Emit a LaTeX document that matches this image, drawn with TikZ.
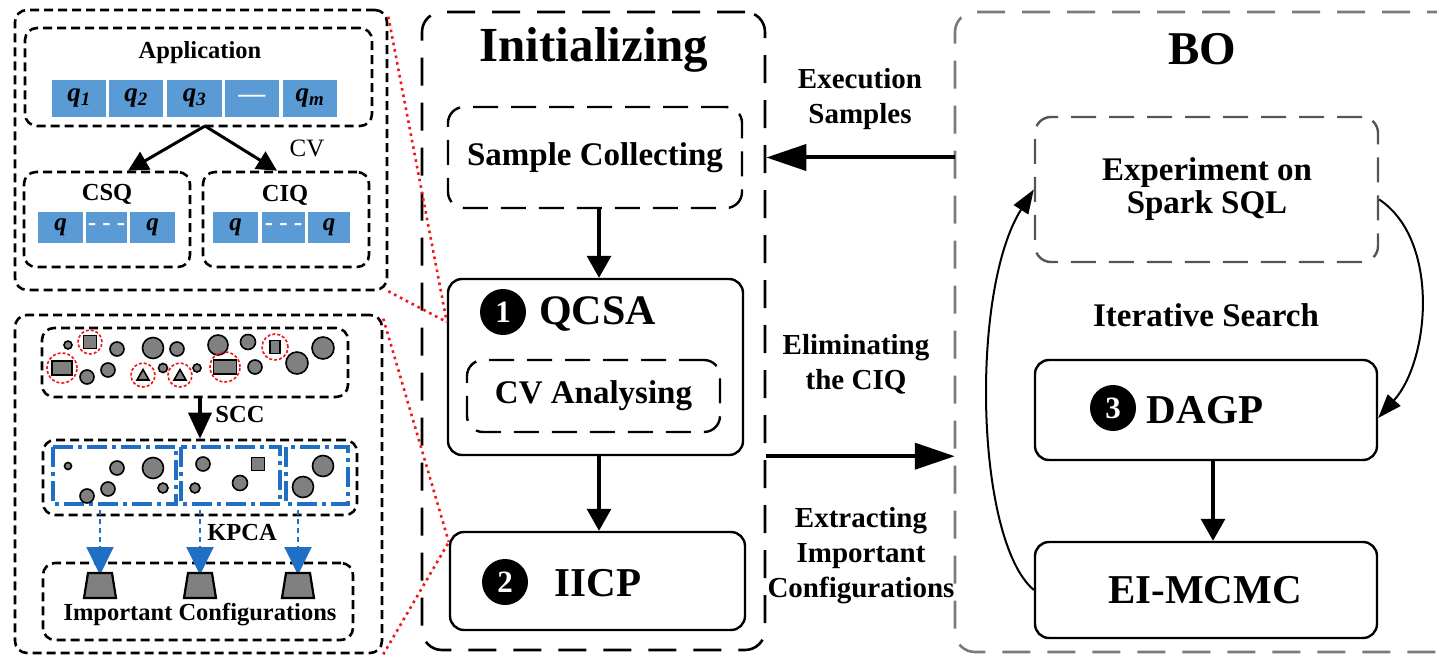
\documentclass[tikz,border=0pt]{standalone}
\usepackage{fontspec}
\setmainfont{Liberation Serif}
\usetikzlibrary{arrows.meta}
\definecolor{cellblue}{HTML}{5B9BD5}
\definecolor{clusterblue}{HTML}{1F6FC4}
\definecolor{framegray}{HTML}{7A7A7A}
\definecolor{boxgray}{HTML}{555555}
\definecolor{dotgray}{HTML}{808080}
\definecolor{linkred}{HTML}{F01818}
\newcommand\setfs[2]{\fontsize{#1}{#2}\selectfont}
\newcommand\qsub[1]{\textbf{\textit{q}\textsubscript{\textit{#1}}}}

\begin{document}
\begin{tikzpicture}[x=1pt,y=-1pt,
  panel/.style={draw, line width=2.6pt, dash pattern=on 9pt off 5pt, rounded corners=12pt, inner sep=0pt},
  bigframe/.style={draw, line width=2.6pt, dash pattern=on 28pt off 17pt, rounded corners=20pt, inner sep=0pt},
  subframe/.style={draw, line width=2.4pt, dash pattern=on 25pt off 13pt, rounded corners=16pt, inner sep=0pt},
  solidbox/.style={draw, line width=2.4pt, rounded corners=14pt, inner sep=0pt},
  cell/.style={fill=cellblue, minimum height=37pt, inner sep=0pt, text=black, font=\setfs{27}{28}},
  scell/.style={fill=cellblue, minimum height=31pt, inner sep=0pt, text=black, font=\setfs{25}{26}},
  smalllbl/.style={font=\bfseries\setfs{24.5}{28}, inner sep=0pt},
  midlbl/.style={font=\bfseries\setfs{33}{38}, inner sep=0pt, align=center},
  sidelbl/.style={font=\bfseries\setfs{29}{35}, inner sep=0pt, align=center},
  titlelbl/.style={font=\bfseries\setfs{49}{55}, inner sep=0pt},
  stagelbl/.style={font=\bfseries\setfs{42}{46}, inner sep=0pt},
  numdisc/.style={circle, fill=black, text=white, inner sep=0pt, minimum size=46pt, font=\bfseries\setfs{31}{31}},
  flowarrow/.style={-{Triangle[length=22pt,width=24pt]}, line width=3.2pt},
  linkarrow/.style={-{Triangle[length=40pt,width=26pt]}, line width=4pt},
  looparrow/.style={-{Triangle[length=24pt,width=17pt]}, line width=2pt},
  splitarrow/.style={-{Triangle[length=20pt,width=20pt]}, line width=3pt},
  kpcaarrow/.style={draw=clusterblue, line width=2pt, dash pattern=on 5pt off 4pt,
                    -{Triangle[length=28pt,width=27pt,fill=clusterblue]}},
  cluster/.style={draw=clusterblue, line width=3.5pt, dash pattern=on 20pt off 5pt on 4pt off 5pt},
  item/.style={draw=black, line width=1.6pt, fill=dotgray},
  mark ring/.style={draw=linkred, line width=1.6pt, dash pattern=on 3pt off 2pt},
  reddots/.style={draw=linkred, line width=2.6pt, dash pattern=on 2.6pt off 4pt}
]
\useasboundingbox (0,0) rectangle (1437,655);
\clip (0,0) rectangle (1437,655);

% ---------- query classification panel ----------
\node[panel, minimum width=372pt, minimum height=280pt] (tlp) at (201,150) {};
\node[panel, minimum width=347pt, minimum height=98pt] (app) at (198.5,77) {};
\node[smalllbl] (applbl) at (200,53) {Application};
\node[cell, minimum width=54pt] (c1) at (79,98.5) {\qsub{1}};
\node[cell, minimum width=54pt] (c2) at (136,98.5) {\qsub{2}};
\node[cell, minimum width=55pt] (c3) at (194.5,98.5) {\qsub{3}};
\node[cell, minimum width=54pt] (c4) at (252,98.5) {\textcolor{white}{\textbf{---}}};
\node[cell, minimum width=54pt] (c5) at (310,98.5) {\qsub{m}};

\node[panel, minimum width=166pt, minimum height=95pt] (csq) at (107,219.5) {};
\node[smalllbl] (csqlbl) at (107,194) {CSQ};
\node[scell, minimum width=45pt] (s1) at (60.5,227.5) {\textbf{\textit{q}}};
\node[scell, minimum width=41pt] (s2) at (106.5,227.5) {\textcolor{white}{\textbf{- - -}}};
\node[scell, minimum width=45pt] (s3) at (152.5,227.5) {\textbf{\textit{q}}};

\node[panel, minimum width=166pt, minimum height=95pt] (ciq) at (286,219.5) {};
\node[smalllbl] (ciqlbl) at (285,195) {CIQ};
\node[scell, minimum width=45pt] (i1) at (235.5,227.5) {\textbf{\textit{q}}};
\node[scell, minimum width=43pt] (i2) at (283.5,227.5) {\textcolor{white}{\textbf{- - -}}};
\node[scell, minimum width=42pt] (i3) at (329,227.5) {\textbf{\textit{q}}};

\node[font=\setfs{25}{28}, inner sep=0pt] (cvlbl) at (307,148) {CV};
\coordinate (split) at (205,126);
\draw[splitarrow] (split) -- ([xshift=21pt]csq.north);
\draw[splitarrow] (split) -- ([xshift=-9pt]ciq.north);

% ---------- configuration clustering panel ----------
\node[panel, minimum width=367pt, minimum height=338pt] (blp) at (198.5,484) {};
\node[panel, minimum width=306pt, minimum height=69pt] (pool) at (195,362.5) {};
% all configurations, the marked ones ringed in red
\foreach \x/\y/\r in {68/345/4, 117/349/7, 153/348/10.5, 177/349/7, 218/345/10,
                      248/342/7.5, 323/348/11, 87/377/7, 108/370/7, 163/368/4.5,
                      197/368/4, 255/367/7, 297/363/11}
  \draw[item] (\x,\y) circle[radius=\r pt];
\draw[item] (83.5,335.5) rectangle (96.5,348.5);
\draw[mark ring] (90,342) circle[radius=12pt];
\draw[item] (270,340.5) rectangle (280,353.5);
\draw[mark ring] (275,347) circle[radius=13pt];
\draw[item] (52,361) rectangle (72,375);
\draw[mark ring] (62,368) circle[radius=15pt];
\draw[item] (213.5,360) rectangle (236.5,374);
\draw[mark ring] (225,367) circle[radius=15pt];
\draw[item] (137,380) -- (149,380) -- (143,369.5) -- cycle;
\draw[mark ring] (143,375) circle[radius=12pt];
\draw[item] (174,380) -- (186,380) -- (180,369.5) -- cycle;
\draw[mark ring] (180,375) circle[radius=12pt];

\node[panel, minimum width=314pt, minimum height=75pt] (groups) at (200,477.5) {};
\draw[flowarrow, line width=3.5pt, -{Triangle[length=26pt,width=23pt]}] (pool.south -| 200,0) -- (groups.north -| 200,0);
\node[smalllbl] (scclbl) at (240,415) {SCC};
\draw[cluster] (53,447) rectangle (176,504);
\draw[cluster] (181,447) rectangle (280,504);
\draw[cluster] (286,447) rectangle (348,504);
\foreach \x/\y/\r in {68/466/3.5, 117/468/7, 153/468/10.5, 87/496/7, 108/489/7, 163/488/5,
                      203/464/7, 240/483/7.5, 195/488/5, 323/466/10.5, 303/487/10.5}
  \draw[item] (\x,\y) circle[radius=\r pt];
\draw[item] (251.5,457.5) rectangle (264.5,470.5);

\node[panel, minimum width=310pt, minimum height=77pt] (chosen) at (198,601.5) {};
\foreach \x in {100,200,298}{
  \draw[kpcaarrow] (\x,510) -- (\x,575);
  \draw[item, line width=2.2pt] (\x-12,573) -- (\x+12,573) -- (\x+16,598) -- (\x-16,598) -- cycle;
}
\node[smalllbl] (kpcalbl) at (242,533) {KPCA};
\node[smalllbl] (chosenlbl) at (200,615) {Important Configurations};

% ---------- initializing stage ----------
\node[bigframe, minimum width=343pt, minimum height=638pt] (init) at (593.5,331) {};
\node[titlelbl] (initlbl) at (594,50) {Initializing};
\node[subframe, minimum width=294pt, minimum height=101pt, midlbl] (sc) at (595,157.5) {Sample Collecting};
\node[solidbox, minimum width=295pt, minimum height=176pt] (qcsa) at (595.5,367) {};
\node[numdisc] (n1) at (503,312) {1};
\node[stagelbl] (qcsalbl) at (597.5,314) {QCSA};
\node[subframe, minimum width=253pt, minimum height=72pt, midlbl] (cva) at (593.5,396) {CV Analysing};
\node[solidbox, minimum width=295pt, minimum height=98pt] (iicp) at (597.5,581) {};
\node[numdisc] (n2) at (505,582) {2};
\node[stagelbl, font=\bfseries\setfs{41}{46}] (iicplbl) at (598,583) {IICP};
\draw[flowarrow] (sc.south -| 599,0) -- (qcsa.north -| 599,0);
\draw[flowarrow] (qcsa.south -| 599,0) -- (iicp.north -| 599,0);

% ---------- BO stage: its frame is open to the right ----------
\node[inner sep=0pt, minimum width=600pt, minimum height=640pt] (bo) at (1255,332) {};
\draw[bigframe, draw=framegray] (1500,12) -- (955,12) -- (955,652) -- (1500,652);
\node[titlelbl, font=\bfseries\setfs{47}{52}] (bolbl) at (1202,49) {BO};
\node[subframe, draw=boxgray, minimum width=343pt, minimum height=145pt] (exp) at (1206.5,189.5) {};
\node[midlbl, align=center] (explbl) at (1207,189) {Experiment on\\[-5pt]Spark SQL};
\node[midlbl] (iterlbl) at (1206,315) {Iterative Search};
\node[solidbox, minimum width=342pt, minimum height=100pt] (dagp) at (1206,410) {};
\node[numdisc] (n3) at (1113,408) {3};
\node[stagelbl, font=\bfseries\setfs{41}{46}] (dagplbl) at (1205,410) {DAGP};
\node[solidbox, minimum width=342pt, minimum height=96pt] (ei) at (1206,590) {};
\node[stagelbl, font=\bfseries\setfs{41}{46}] (eilbl) at (1205,590) {EI-MCMC};
\draw[flowarrow] (dagp.south -| 1213,0) -- (ei.north -| 1213,0);
\draw[looparrow] ([yshift=-10pt]exp.east) .. controls (1440,240) and (1430,360) .. ([yshift=-8pt]dagp.east);
\draw[looparrow] (ei.west) .. controls (975,540) and (970,290) .. (exp.west);

% ---------- links between the stages ----------
\draw[linkarrow] (sc.east -| bo.west) -- (sc.east -| init.east);
\draw[linkarrow] (qcsa.south -| init.east) -- (qcsa.south -| bo.west);
\node[sidelbl] (execlbl) at (860,99) {Execution\\Samples};
\node[sidelbl] (elimlbl) at (856,364) {Eliminating\\the CIQ};
\node[sidelbl] (extrlbl) at (861,556) {Extracting\\Important\\Configurations};

% ---------- zoom lines from the stages to the panels ----------
\draw[reddots] ([yshift=-8pt]tlp.north east) -- ([yshift=45pt]qcsa.west);
\draw[reddots] (tlp.south east) -- ([yshift=45pt]qcsa.west);
\draw[reddots] ([yshift=-5pt]blp.north east) -- ([yshift=39pt]iicp.west);
\draw[reddots] (blp.south east) -- ([yshift=39pt]iicp.west);
\end{tikzpicture}
\end{document}
